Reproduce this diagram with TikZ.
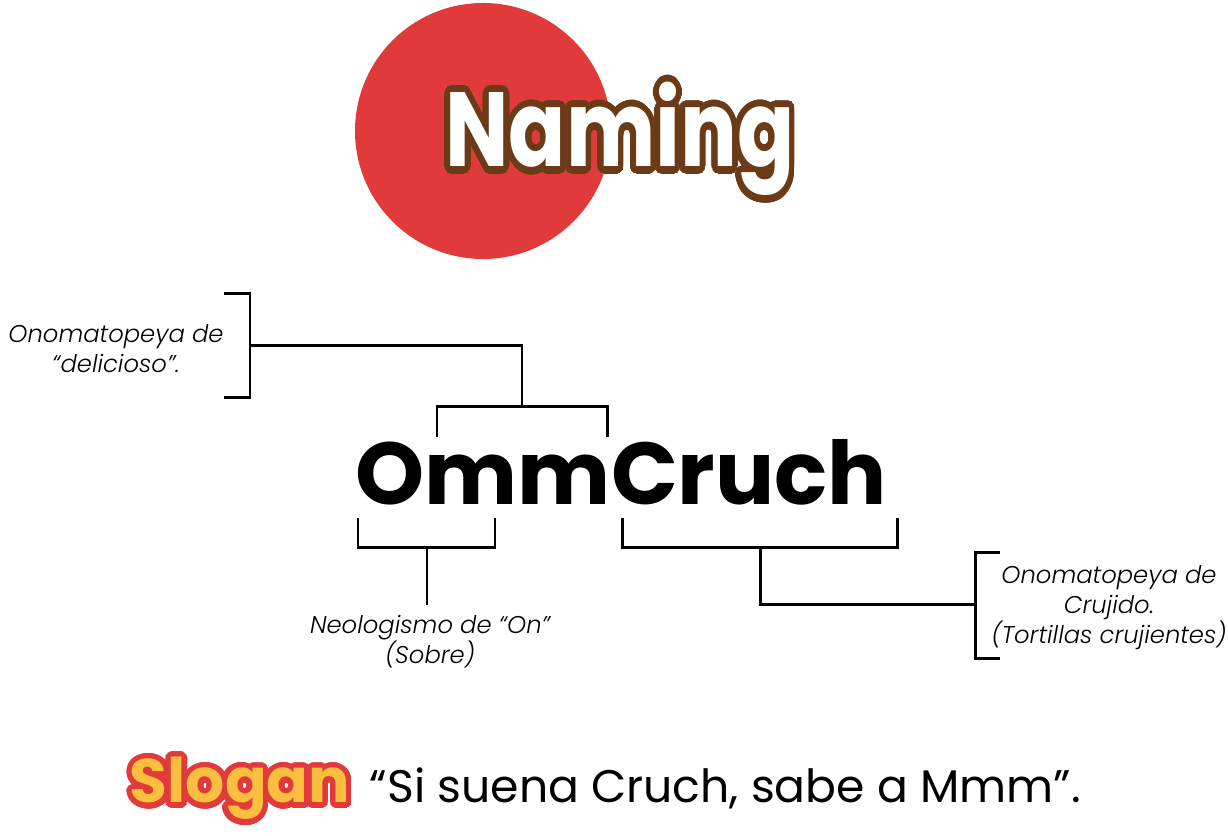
\documentclass[tikz,border=0pt]{standalone}
\usepackage{fontspec}
\setmainfont{Poppins}
\newfontfamily\notefont{Poppins}[UprightFont=* Light, ItalicFont=* Light Italic]
\usepackage{contour}
\usetikzlibrary{positioning}
\definecolor{namingred}{HTML}{E03A3A}
\definecolor{namingbrown}{HTML}{6B3A17}
\definecolor{sloganyellow}{HTML}{FBBF3F}
\contournumber{48}

\begin{document}
\begin{tikzpicture}[
        bracket/.style={line width=1.7pt},
        note/.style={font=\notefont\itshape\fontsize{13.8}{17}\selectfont, align=center}]
        \useasboundingbox (0,0) rectangle (24.56,16.72);
        % title
        \fill[namingred] (9.66,14.10) circle (2.56);
        \node[anchor=base] (naming) at (12.40,13.38) {\scalebox{0.8}[1]{\fontsize{60}{60}\selectfont\bfseries\contourlength{4pt}\contour{namingbrown}{\textcolor{white}{Naming}}}};
        % word
        \node[anchor=base, font=\fontsize{50}{50}\selectfont\bfseries] (word) at (12.43,6.62) {OmmCruch};
        % labels
        \node[note] (delicioso) at (2.32,9.74) {Onomatopeya de\\“delicioso”.};
        \node[note] (sobre) at (8.60,3.88) {Neologismo de “On”\\(Sobre)};
        \node[note] (crujido) at (22.18,4.56) {Onomatopeya de\\Crujido.\\(Tortillas crujientes)};
        % bracket points
        \coordinate (delicioso-b) at (5.00,9.80);
        \coordinate (mm-b) at (10.44,8.58);
        \coordinate (om-b) at (8.54,5.76);
        \coordinate (sobre-b) at (8.54,4.62);
        \coordinate (cruch-b) at (15.20,5.76);
        \coordinate (crujido-b) at (19.50,4.62);
        \draw[bracket] (4.48,10.84) -- (5.00,10.84) -- (5.00,8.76) -- (4.48,8.76);
        \draw[bracket] (delicioso-b) -| (mm-b);
        \draw[bracket] (8.74,7.98) |- (12.14,8.58) -- (12.14,7.98);
        \draw[bracket] (7.16,6.36) |- (9.90,5.76) -- (9.90,6.36);
        \draw[bracket] (om-b) -- (sobre-b);
        \draw[bracket] (12.44,6.36) |- (17.94,5.76) -- (17.94,6.36);
        \draw[bracket] (cruch-b) |- (crujido-b);
        \draw[bracket] (20.00,5.66) -- (19.50,5.66) -- (19.50,3.54) -- (20.00,3.54);
        % slogan
        \node[anchor=base] (slogan) at (4.80,0.66) {\fontsize{35}{35}\selectfont\bfseries\contourlength{3pt}\contour{namingred}{\textcolor{sloganyellow}{Slogan}}};
        \node[base right=0.15cm of slogan, font=\fontsize{26}{26}\selectfont] (quote) {“Si suena Cruch, sabe a Mmm”.};
\end{tikzpicture}
\end{document}
